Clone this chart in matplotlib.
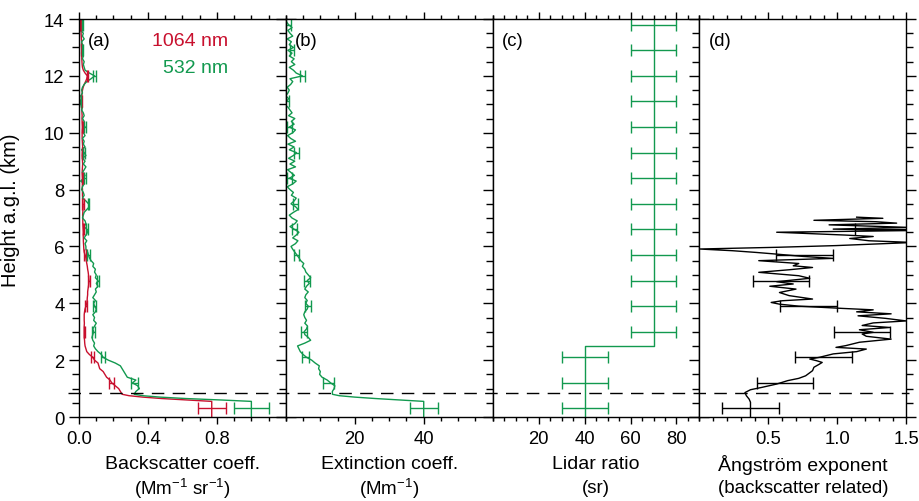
import matplotlib
matplotlib.use('Agg')
import matplotlib.pyplot as plt
import matplotlib.transforms as mtransforms
from matplotlib.ticker import MultipleLocator

plt.rcParams['font.family'] = ['Liberation Sans', 'DejaVu Sans']
plt.rcParams['mathtext.default'] = 'regular'

RED = '#C8102E'
GREEN = '#12994F'

# altitude bins (km a.g.l.)
alt = [0.0, 0.55, 0.6, 0.65, 0.7, 0.75, 0.8,
       0.9, 1.0, 1.1, 1.2, 1.3, 1.4, 1.5, 1.6, 1.7, 1.8, 1.9,
       2.0, 2.1, 2.2, 2.3, 2.4, 2.5, 2.6, 2.7, 2.8, 2.9,
       3.0, 3.1, 3.2, 3.3, 3.4, 3.5, 3.6, 3.7, 3.8, 3.9,
       4.0, 4.1, 4.2, 4.3, 4.4, 4.5, 4.6, 4.7, 4.8, 4.9,
       5.0, 5.1, 5.2, 5.3, 5.4, 5.5, 5.6, 5.7, 5.8, 5.9,
       6.0, 6.1, 6.2, 6.3, 6.4, 6.5, 6.6, 6.7, 6.8, 6.9,
       7.0, 7.1, 7.2, 7.3, 7.4, 7.5, 7.6, 7.7, 7.8, 7.9,
       8.0, 8.1, 8.2, 8.3, 8.4, 8.5, 8.6, 8.7, 8.8, 8.9,
       9.0, 9.1, 9.2, 9.3, 9.4, 9.5, 9.6, 9.7, 9.8, 9.9,
       10.0, 10.1, 10.2, 10.3, 10.4, 10.5, 10.6, 10.7, 10.8, 10.9,
       11.0, 11.1, 11.2, 11.3, 11.4, 11.5, 11.6, 11.7, 11.8, 11.9,
       12.0, 12.1, 12.2, 12.3, 12.4, 12.5, 12.6, 12.7, 12.8, 12.9,
       13.0, 13.1, 13.2, 13.3, 13.4, 13.5, 13.6, 13.7, 13.8, 13.9,
       14.0]

# backscatter 532 nm (Mm-1 sr-1)
bsc532 = [1.00, 1.00, 0.82, 0.62, 0.47, 0.37, 0.32,
          0.33, 0.35, 0.34, 0.31, 0.33, 0.28, 0.27, 0.26, 0.25, 0.24, 0.21,
          0.17, 0.14, 0.13, 0.11, 0.095, 0.085, 0.09, 0.08, 0.075, 0.08,
          0.085, 0.08, 0.09, 0.10, 0.085, 0.09, 0.08, 0.095, 0.10, 0.09,
          0.085, 0.095, 0.08, 0.09, 0.10, 0.095, 0.11, 0.10, 0.11, 0.095,
          0.10, 0.09, 0.095, 0.08, 0.085, 0.07, 0.06, 0.055, 0.05, 0.04,
          0.04, 0.035, 0.045, 0.03, 0.04, 0.05, 0.045, 0.03, 0.04, 0.035,
          0.02, 0.025, 0.03, 0.045, 0.06, 0.055, 0.04, 0.02, 0.03, 0.025,
          0.015, 0.02, 0.03, 0.01, 0.025, 0.035, 0.02, 0.03, 0.04, 0.025,
          0.035, 0.02, 0.04, 0.03, 0.015, 0.035, 0.025, 0.03, 0.02, 0.035,
          0.025, 0.02, 0.035, 0.025, 0.03, 0.02, 0.03, 0.025, 0.015, 0.02,
          0.01, 0.005, 0.015, 0.01, 0.02, 0.015, 0.02, 0.03, 0.045, 0.07,
          0.09, 0.06, 0.035, 0.03, 0.025, 0.03, 0.02, 0.025, 0.015, 0.02,
          0.025, 0.02, 0.015, 0.03, 0.02, 0.025, 0.01, 0.02, 0.015, 0.01,
          0.005]

# backscatter 1064 nm (Mm-1 sr-1)
bsc1064 = [0.77, 0.77, 0.62, 0.48, 0.37, 0.29, 0.25,
           0.24, 0.23, 0.21, 0.19, 0.18, 0.16, 0.15, 0.14, 0.12, 0.115, 0.11,
           0.09, 0.08, 0.06, 0.045, 0.04, 0.035, 0.033, 0.032, 0.03, 0.03,
           0.03, 0.03, 0.03, 0.031, 0.03, 0.03, 0.03, 0.032, 0.035, 0.04,
           0.045, 0.047, 0.048, 0.05, 0.05, 0.052, 0.055, 0.057, 0.058, 0.056,
           0.055, 0.053, 0.05, 0.048, 0.045, 0.042, 0.04, 0.035, 0.03, 0.028,
           0.027, 0.026, 0.025, 0.025, 0.024, 0.025, 0.024, 0.023, 0.022, 0.022,
           0.022, 0.021, 0.022, 0.023, 0.024, 0.023, 0.022, 0.021, 0.020, 0.020,
           0.020, 0.019, 0.020, 0.021, 0.020, 0.019, 0.018, 0.019, 0.020, 0.021,
           0.020, 0.019, 0.018, 0.019, 0.020, 0.021, 0.020, 0.019, 0.018, 0.018,
           0.018, 0.019, 0.020, 0.019, 0.018, 0.017, 0.018, 0.017, 0.016, 0.016,
           0.015, 0.014, 0.015, 0.016, 0.018, 0.020, 0.024, 0.030, 0.038, 0.045,
           0.048, 0.035, 0.025, 0.020, 0.018, 0.017, 0.016, 0.016, 0.015, 0.016,
           0.015, 0.014, 0.015, 0.014, 0.013, 0.012, 0.012, 0.011, 0.010, 0.010,
           0.010]

# extinction 532 nm (Mm-1)
ext532 = [40, 40, 33, 26, 20, 15.5, 13.5,
          13.5, 14, 14.2, 13, 12, 10.5, 9.8, 10, 9.5, 9.7, 8.5,
          7.5, 6, 5, 4.2, 3.8, 3.4, 5.5, 7.2, 6.5, 5.5,
          5.3, 6, 6.3, 5.5, 6, 5.5, 5.2, 5.5, 6.2, 6.5,
          5.8, 6.2, 5.5, 5.8, 6.5, 5.5, 6, 6.8, 6.2, 7.2,
          6.5, 5.8, 5.5, 4.8, 5.2, 4.3, 3.8, 3.2, 2.6, 2.0,
          1.5, 2.8, 3.5, 2.0, 3.0, 3.8, 2.5, 1.2, 2.6, 3.3,
          1.8, 1.0, 2.2, 3.6, 2.8, 1.5, 2.4, 3.0, 1.6, 2.2,
          1.2, 0.4, 2.0, 3.0, 1.0, 2.5, 1.5, 0.5, 2.8, 1.2,
          2.6, 0.8, 2.2, 3.1, 1.0, 2.4, 0.6, 2.8, 1.4, 0.5,
          2.0, 2.8, 1.0, 2.4, 1.6, 2.6, 0.8, 1.8, 1.2, 0.6,
          -0.4, 0.2, 0.8, 0.0, 0.6, 1.0, 0.4, 1.4, 2.0, 1.2,
          4.8, 3.0, 2.2, 1.0, 2.6, 1.6, 2.4, 1.0, 1.8, 0.6,
          2.2, 1.0, 1.6, 0.4, 2.0, 1.2, 0.6, 1.8, 0.8, 0.2,
          0.0]

# lidar ratio (sr)
lr_alt = [0.0, 2.5, 2.5, 14.0]
lr532 = [40, 40, 70, 70]

# backscatter related Angstrom exponent 532/1064
ae_alt = [0.0, 0.52, 0.63, 0.75, 0.86, 0.96, 1.04, 1.16, 1.28, 1.36, 1.45,
          1.63, 1.75, 1.86, 1.92, 1.98, 2.04, 2.1, 2.22, 2.3, 2.39, 2.45,
          2.51, 2.63, 2.74, 2.84, 2.92, 2.98, 3.07, 3.15, 3.22, 3.31, 3.38,
          3.47, 3.56, 3.63, 3.7, 3.77, 3.82, 3.9, 3.97, 4.03, 4.09, 4.15,
          4.27, 4.38, 4.5, 4.6, 4.68, 4.76, 4.88, 4.97, 5.09, 5.18, 5.26,
          5.32, 5.4, 5.5, 5.58, 5.65, 5.73, 5.79, 5.85, 5.91, 5.97, 6.03,
          6.14, 6.2, 6.28, 6.35, 6.4, 6.5, 6.56, 6.61, 6.67, 6.76, 6.82,
          6.87, 6.92, 6.99, 7.03]
ae = [0.37, 0.37, 0.36, 0.34, 0.33, 0.37, 0.45, 0.56, 0.64, 0.72, 0.77,
      0.82, 0.83, 0.87, 0.89, 0.85, 0.80, 0.87, 0.97, 1.14, 1.21, 0.99,
      1.06, 1.16, 1.39, 1.21, 1.18, 1.26, 1.16, 1.38, 1.18, 1.26, 1.50,
      1.35, 1.15, 1.39, 1.14, 1.26, 1.04, 0.72, 0.58, 0.52, 0.60, 0.82,
      0.65, 0.58, 0.70, 0.51, 0.68, 0.56, 0.80, 0.72, 0.43, 0.65, 0.82,
      0.68, 0.72, 0.43, 0.97, 0.75, 0.56, 0.41, 0.24, 0.0, 0.56, 0.99,
      1.55, 1.23, 1.09, 1.26, 1.06, 0.56, 1.55, 0.97, 1.52, 0.94, 1.43,
      1.28, 0.83, 1.33, 1.14]

# error bars
eb_alt = [0.3, 1.2, 2.1, 3.0, 3.9, 4.8, 5.7, 6.6, 7.5, 8.4, 9.3, 10.2,
          11.1, 12.0, 12.9, 13.8]
eb_bsc532 = [1.0, 0.32, 0.14, 0.085, 0.09, 0.11, 0.055, 0.045, 0.055,
             0.035, 0.03, 0.035, 0.005, 0.09, 0.02, 0.02]
err_bsc532 = [0.1, 0.02, 0.01, 0.007, 0.007, 0.007, 0.006, 0.005, 0.005,
              0.005, 0.005, 0.005, 0.005, 0.007, 0.005, 0.005]
eb_bsc1064 = [0.77, 0.19, 0.08, 0.03, 0.04, 0.058, 0.035, 0.024, 0.023,
              0.02, 0.019, 0.019, 0.014, 0.048, 0.016, 0.01]
err_bsc1064 = [0.08, 0.015, 0.008, 0.004, 0.004, 0.004, 0.004, 0.003,
               0.003, 0.003, 0.003, 0.003, 0.003, 0.004, 0.003, 0.003]
eb_ext = [40, 12.5, 5.8, 5.3, 6.5, 6.2, 3.2, 2.5, 2.8, 1.0, 3.1, 1.0,
          0.2, 4.8, 1.8, 0.8]
err_ext = [4, 1.6, 1.0, 0.8, 0.8, 0.8, 0.7, 0.7, 0.7, 0.7, 0.7, 0.7,
           0.7, 0.8, 0.7, 0.7]
eb_lr = [40, 40, 40, 70, 70, 70, 70, 70, 70, 70, 70, 70, 70, 70, 70, 70]
err_lr = [10, 10, 10, 10, 10, 10, 10, 10, 10, 10, 10, 10, 10, 10, 10, 10]
eb_ae_alt = [0.3, 1.2, 2.1, 3.0, 3.9, 4.8, 5.7, 6.6]
eb_ae = [0.37, 0.62, 0.90, 1.18, 0.79, 0.59, 0.76, 1.35]
err_ae = [0.205, 0.205, 0.205, 0.205, 0.205, 0.205, 0.205, 0.22]

pbl_top = 0.84

FS = 13.3   # tick labels
FL = 14     # axis titles

fig = plt.figure(figsize=(9.2, 5.02), dpi=100)
left, width = 0.0859, 0.2248
bottom, height = 0.1673, 0.7928
axes = [fig.add_axes([left + i * width, bottom, width, height]) for i in range(4)]

xlims = [(0, 1.2), (0, 60), (0, 90), (0, 1.5)]
xmaj = [0.4, 20, 20, 0.5]
xmin = [0.1, 5, 5, 0.1]
xticks = [[0.0, 0.4, 0.8], [20, 40], [20, 40, 60, 80], [0.5, 1.0, 1.5]]
xticklabels = [['0.0', '0.4', '0.8'], ['20', '40'], ['20', '40', '60', '80'],
               ['0.5', '1.0', '1.5']]
labels1 = ['Backscatter coeff.', 'Extinction coeff.', 'Lidar ratio',
           'Ångström exponent']
labels2 = [r'(Mm$^{-1}$ sr$^{-1}$)', r'(Mm$^{-1}$)', '(sr)',
           '(backscatter related)']
tags = ['(a)', '(b)', '(c)', '(d)']

eb_kw = dict(fmt='none', elinewidth=1.0, capsize=4, capthick=1.0)

ax = axes[0]
ax.plot(bsc1064, alt, color=RED, lw=1.0)
ax.plot(bsc532, alt, color=GREEN, lw=1.0)
ax.errorbar(eb_bsc1064, eb_alt, xerr=err_bsc1064, ecolor=RED, **eb_kw)
ax.errorbar(eb_bsc532, eb_alt, xerr=err_bsc532, ecolor=GREEN, **eb_kw)
ax.text(0.723, 0.945, '1064 nm', color=RED, fontsize=FL,
        ha='right', va='center', transform=ax.transAxes)
ax.text(0.723, 0.879, '532 nm', color=GREEN, fontsize=FL,
        ha='right', va='center', transform=ax.transAxes)

ax = axes[1]
ax.plot(ext532, alt, color=GREEN, lw=1.0)
ax.errorbar(eb_ext, eb_alt, xerr=err_ext, ecolor=GREEN, **eb_kw)

ax = axes[2]
ax.plot(lr532, lr_alt, color=GREEN, lw=1.0)
ax.errorbar(eb_lr, eb_alt, xerr=err_lr, ecolor=GREEN, **eb_kw)

ax = axes[3]
ax.plot(ae, ae_alt, color='black', lw=1.0)
ax.errorbar(eb_ae, eb_ae_alt, xerr=err_ae, ecolor='black', **eb_kw)

for i, ax in enumerate(axes):
    ax.set_xlim(*xlims[i])
    ax.set_ylim(0, 14)
    ax.xaxis.set_major_locator(MultipleLocator(xmaj[i]))
    ax.xaxis.set_minor_locator(MultipleLocator(xmin[i]))
    ax.yaxis.set_major_locator(MultipleLocator(2))
    ax.yaxis.set_minor_locator(MultipleLocator(0.5))
    ax.tick_params(axis='x', which='both', direction='out', top=True,
                   bottom=True, labelsize=FS, width=1.0, pad=4)
    ax.tick_params(axis='x', which='major', length=5)
    ax.tick_params(axis='x', which='minor', length=3)
    ax.tick_params(axis='y', which='both', direction='out', left=True,
                   right=True, labelsize=FS, width=1.0, pad=3)
    ax.tick_params(axis='y', which='major', length=7.5)
    ax.tick_params(axis='y', which='minor', length=5)
    ax.set_xticks(xticks[i])
    ax.set_xticklabels(xticklabels[i])
    if i > 0:
        ax.set_yticklabels([])
    for sp in ax.spines.values():
        sp.set_linewidth(1.0)
    ax.text(0.5, -0.118, labels1[i], fontsize=FL, ha='center',
            va='center', transform=ax.transAxes)
    ax.text(0.5, -0.177, labels2[i], fontsize=13.5, ha='center',
            va='center', transform=ax.transAxes)
    ax.text(0.045, 0.945, tags[i], fontsize=FS, ha='left', va='center',
            transform=ax.transAxes)

axes[0].set_ylabel('Height a.g.l. (km)', fontsize=14.5)
axes[0].yaxis.set_label_coords(-0.285, 0.523)

# dashed line marking the boundary layer top, across all panels
trans = mtransforms.blended_transform_factory(fig.transFigure, axes[0].transData)
fig.add_artist(plt.Line2D([0.074, 0.988], [pbl_top, pbl_top], transform=trans,
                          color='black', lw=1.0, linestyle=(0, (9, 6))))

fig.savefig('out.png', dpi=100)
